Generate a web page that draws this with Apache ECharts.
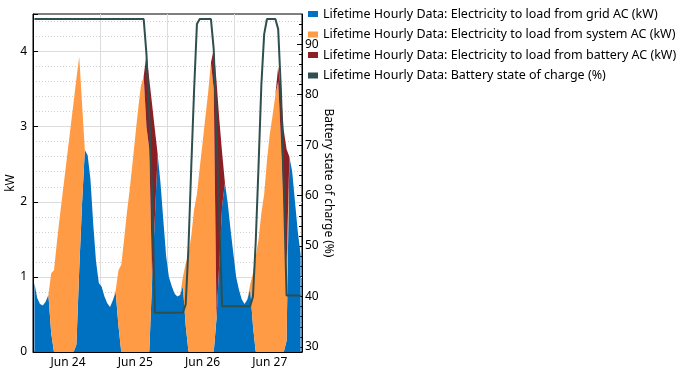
<!DOCTYPE html>
<html><head><meta charset="utf-8">
<script src="https://cdn.jsdelivr.net/npm/echarts@6/dist/echarts.min.js"></script>
<style>html,body{margin:0;padding:0;background:#fff}#c{width:684px;height:372px}</style>
</head><body><div id="c"></div>
<script>
// Hourly values, Jun 24 00:00 .. Jun 27 23:00 (96 hours)
const dayLabels = ['Jun 24', 'Jun 25', 'Jun 26', 'Jun 27'];
const seriesNames = [
  'Lifetime Hourly Data: Electricity to load from grid AC (kW)',
  'Lifetime Hourly Data: Electricity to load from system AC (kW)',
  'Lifetime Hourly Data: Electricity to load from battery AC (kW)',
  'Lifetime Hourly Data: Battery state of charge (%)'
];
const gridAC = [
  0.92,0.72,0.64,0.62,0.67,0.76,
  0.25,0,0,0,0,0,
  0,0,0,0.1,1.1,1.97,
  2.69,2.62,2.3,1.7,1.2,0.92,
  0.87,0.74,0.65,0.60,0.69,0.80,
  0.35,0,0,0,0,0,
  0,0,0,0,0,0,
  0.96,1.8,2.63,2.25,1.76,1.28,
  1.0,0.88,0.78,0.74,0.76,0.88,
  0.35,0,0,0,0,0,
  0,0,0,0,0,0.45,
  1.2,1.95,2.25,1.98,1.63,1.31,
  1.0,0.83,0.7,0.64,0.7,0.85,
  0.35,0,0,0,0,0,
  0,0,0,0,0,0,
  0.15,2.6,2.4,2.0,1.6,1.3
];
const systemAC = [
  0,0,0,0,0,0,
  0.8,1.09,1.45,1.78,2.09,2.4,
  2.71,3.02,3.33,3.54,2.83,1.34,
  0,0,0,0,0,0,
  0,0,0,0,0,0.02,
  0.74,1.16,1.49,1.85,2.16,2.51,
  2.87,3.23,3.54,3.67,3.0,2.7,
  0,0,0,0,0,0,
  0,0,0,0,0,0.12,
  0.83,1.3,1.55,1.9,2.1,2.45,
  2.78,3.12,3.45,3.85,3.5,0,
  0,0,0,0,0,0,
  0,0,0,0,0,0.05,
  0.7,1.27,1.5,1.85,2.1,2.55,
  2.9,3.15,3.42,3.6,2.8,1.95,
  1.0,0,0,0,0,0
];
const batteryAC = [
  0,0,0,0,0,0,
  0,0,0,0,0,0,
  0,0,0,0,0,0,
  0,0,0,0,0,0,
  0,0,0,0,0,0,
  0,0,0,0,0,0,
  0,0,0,0,0.96,0.93,
  2.34,1.16,0,0,0,0,
  0,0,0,0,0,0,
  0,0,0,0,0,0,
  0,0,0,0,0.53,3.15,
  1.89,0.7,0,0,0,0,
  0,0,0,0,0,0,
  0,0,0,0,0,0,
  0,0,0,0.2,0.65,1.0,
  1.55,0,0,0,0,0
];
const soc = [
  95,95,95,95,95,95,
  95,95,95,95,95,95,
  95,95,95,95,95,95,
  95,95,95,95,95,95,
  95,95,95,95,95,95,
  95,95,95,95,95,95,
  95,95,95,95,88,76,
  61,36.8,36.8,36.8,36.8,36.8,
  36.8,36.8,36.8,36.8,36.8,36.8,
  38.5,50,66,81,94,95,
  95,95,95,95,89,73,
  55,38.05,38.05,38.05,38.05,38.05,
  38.05,38.05,38.05,38.05,38.05,38.05,
  40,51,66,82,92,95,
  95,95,95,93,80.6,61.8,
  40.2,40.2,40.2,40.2,40.2,40.2
];
const kwLabels = [0, 1, 2, 3, 4];
const socLabels = [30, 40, 50, 60, 70, 80, 90];
const socMinor = [30,32,34,36,38,40,42,44,46,48,50,52,54,56,58,60,62,64,66,68,70,72,74,76,78,80,82,84,86,88,90,92,94];

const colors = ['#0070C0', '#FF9A45', '#8B1F24', '#2F4F4F'];
const FONT = 'Noto Sans';
const hours = soc.map((v, i) => String(i));

const chart = echarts.init(document.getElementById('c'));
const areaSeries = (idx, arr) => ({
  name: seriesNames[idx], type: 'line', stack: 'kw', data: arr,
  symbol: 'none', showSymbol: false,
  lineStyle: { width: 0, opacity: 0, color: colors[idx] },
  itemStyle: { color: colors[idx] },
  areaStyle: { color: colors[idx], opacity: 1 },
  z: 2
});
chart.setOption({
  animation: false,
  textStyle: { fontFamily: FONT },
  grid: { left: 33, right: 382, top: 14, bottom: 20, show: true, borderColor: '#000', borderWidth: 1, backgroundColor: 'transparent' },
  legend: {
    orient: 'vertical', left: 308, top: 7, padding: 0, itemWidth: 10, itemHeight: 6, itemGap: 6.5,
    icon: 'rect', data: seriesNames,
    textStyle: { fontSize: 12.5, color: '#000', lineHeight: 14, fontFamily: FONT }
  },
  xAxis: {
    type: 'category', data: hours, boundaryGap: true,
    axisLine: { lineStyle: { color: '#000' } },
    axisTick: { inside: true, length: 5, interval: i => i % 24 === 0, lineStyle: { color: '#000' } },
    axisLabel: {
      margin: 5, fontSize: 12, color: '#000', fontFamily: FONT,
      interval: i => i % 24 === 12,
      formatter: (v, i) => dayLabels[Math.floor(Number(v) / 24)]
    },
    splitLine: { show: true, interval: i => i % 24 === 0, showMinLine: false, showMaxLine: false, lineStyle: { color: '#dcdcdc' } }
  },
  yAxis: [
    {
      type: 'value', min: 0, max: 4.5, interval: 0.2, position: 'left',
      name: 'kW', nameLocation: 'middle', nameGap: 15,
      nameTextStyle: { fontSize: 12, color: '#000', fontFamily: FONT },
      axisLine: { show: true, lineStyle: { color: '#000' } },
      axisTick: { inside: true, length: 3, lineStyle: { color: '#000' } },
      axisLabel: {
        margin: 6, fontSize: 12, color: '#000', fontFamily: FONT,
        formatter: v => { const r = Math.round(v); return (Math.abs(v - r) < 1e-6 && kwLabels.indexOf(r) >= 0) ? String(r) : ''; }
      },
      splitLine: { show: true, showMinLine: false, showMaxLine: false, lineStyle: { color: '#cfcfcf', type: [1, 2] } }
    },
    {
      type: 'value', min: 29, max: 96, position: 'right',
      name: 'Battery state of charge (%)', nameLocation: 'middle', nameRotate: -90, nameGap: 19,
      nameTextStyle: { fontSize: 12, color: '#000', fontFamily: FONT },
      axisLine: { show: true, lineStyle: { color: '#000' } },
      axisTick: { show: true, inside: true, length: 5, customValues: socLabels, lineStyle: { color: '#000' } },
      axisLabel: { margin: 3, fontSize: 12, color: '#000', fontFamily: FONT, customValues: socLabels },
      splitLine: { show: false }
    },
    {
      type: 'value', min: 0, max: 4.5, interval: 1, position: 'left',
      axisLine: { show: false },
      axisTick: { show: true, inside: true, length: 5, lineStyle: { color: '#000' } },
      axisLabel: { show: false },
      splitLine: { show: true, showMinLine: false, showMaxLine: false, lineStyle: { color: '#dcdcdc' } }
    },
    {
      type: 'value', min: 29, max: 96, position: 'right',
      axisLine: { show: false },
      axisTick: { show: true, inside: true, length: 3, customValues: socMinor, lineStyle: { color: '#000' } },
      axisLabel: { show: false },
      splitLine: { show: false }
    }
  ],
  series: [
    areaSeries(0, gridAC),
    areaSeries(1, systemAC),
    areaSeries(2, batteryAC),
    {
      name: seriesNames[3], type: 'line', yAxisIndex: 1, data: soc,
      symbol: 'none', showSymbol: false,
      lineStyle: { width: 2, color: colors[3] }, itemStyle: { color: colors[3] },
      z: 5
    }
  ]
});
</script></body></html>
